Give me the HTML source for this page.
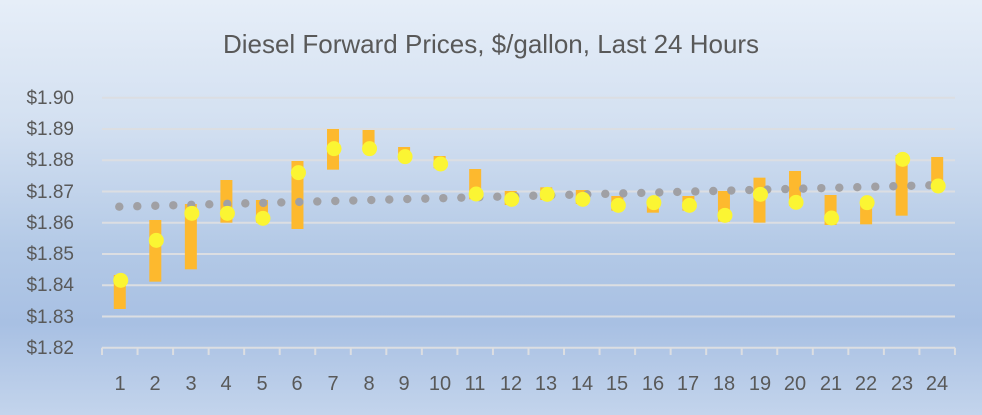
<!DOCTYPE html>
<html><head><meta charset="utf-8"><style>
html,body{margin:0;padding:0}
body{width:982px;height:415px;overflow:hidden;background:linear-gradient(to bottom,#e6eef8 0%,#d3e0f1 30%,#b3c9e6 60%,#a8c0e3 78%,#c3d4ec 100%);font-family:"Liberation Sans",sans-serif}
svg{position:absolute;left:0;top:0}
</style></head><body>
<svg id="s" width="982" height="415" xmlns="http://www.w3.org/2000/svg">
<text x="491" y="53" text-anchor="middle" font-size="26" fill="#595959" font-family="Liberation Sans, sans-serif">Diesel Forward Prices, $/gallon, Last 24 Hours</text>
<g id="grid" stroke="#dcdee2" stroke-width="2"></g>
<g font-size="19" fill="#595959" text-anchor="end" font-family="Liberation Sans, sans-serif">
<text x="74" y="104">$1.90</text><text x="74" y="135">$1.89</text><text x="74" y="166">$1.88</text><text x="74" y="198">$1.87</text><text x="74" y="229">$1.86</text><text x="74" y="260">$1.85</text><text x="74" y="291">$1.84</text><text x="74" y="323">$1.83</text><text x="74" y="354">$1.82</text>
</g>
<g font-size="20" fill="#595959" text-anchor="middle" font-family="Liberation Sans, sans-serif">
<text x="120" y="390">1</text><text x="155" y="390">2</text><text x="191" y="390">3</text><text x="226" y="390">4</text><text x="262" y="390">5</text><text x="297" y="390">6</text><text x="333" y="390">7</text><text x="369" y="390">8</text><text x="404" y="390">9</text><text x="440" y="390">10</text><text x="475" y="390">11</text><text x="511" y="390">12</text><text x="546" y="390">13</text><text x="582" y="390">14</text><text x="617" y="390">15</text><text x="653" y="390">16</text><text x="688" y="390">17</text><text x="724" y="390">18</text><text x="760" y="390">19</text><text x="795" y="390">20</text><text x="831" y="390">21</text><text x="866" y="390">22</text><text x="902" y="390">23</text><text x="937" y="390">24</text>
</g>
</svg>
<script>
var s=document.getElementById('s'),g=document.getElementById('grid'),NS='http://www.w3.org/2000/svg';
function el(p,t,a){var e=document.createElementNS(NS,t);for(var k in a)e.setAttribute(k,a[k]);p.appendChild(e);return e;}
for(var i=0;i<9;i++){var y=97.7+i*31.25;el(g,'line',{x1:102,x2:955,y1:y,y2:y});}
for(var i=0;i<=24;i++){var x=102+i*35.54;el(g,'line',{x1:x,x2:x,y1:347.7,y2:355});}
var d=[[585,687,601],[420,605,481],[372,568,400],[300,428,400],[360,428,415],[243,447,278],[147,269,206],[150,205,206],[201,240,230],[228,265,252],[267,358,342],
[333,375,358],[322,360,343],[330,372,358],[348,392,376],[365,398,368],[348,392,376],[333,425,406],[293,428,343],[273,378,367],[345,435,414],[365,433,368],[225,407,238],[231,318,318]];
d.forEach(function(v,i){var cx=102+35.54*(i+0.5);el(s,'rect',{x:cx-6,y:80+v[0]/3,width:12,height:(v[1]-v[0])/3,fill:'#fdb92e'});});
for(var j=0;j<46;j++){var x=119.3+j*18,y=206.7+(185.3-206.7)*j/45;el(s,'circle',{cx:x,cy:y,r:4.2,fill:'#a0a0a4'});}
d.forEach(function(v,i){var cx=102+35.54*(i+0.5)+1;el(s,'circle',{cx:cx,cy:80+v[2]/3,r:7.5,fill:'#fbf533'});});
</script>
</body></html>
